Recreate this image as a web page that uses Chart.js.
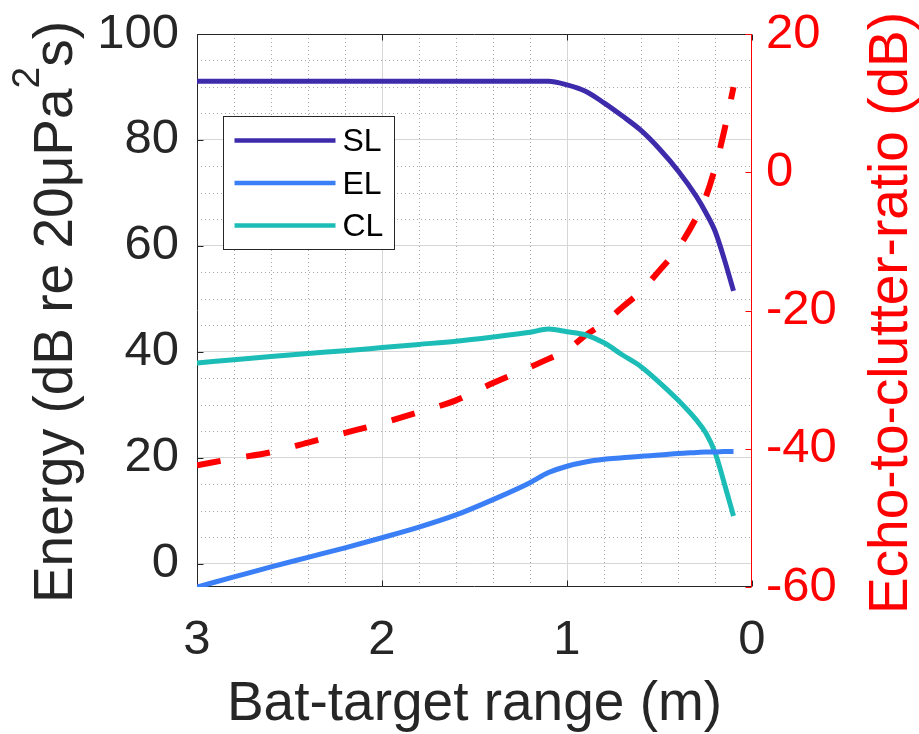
<!DOCTYPE html>
<html>
<head>
<meta charset="utf-8">
<script src="https://cdn.jsdelivr.net/npm/chart.js@4.4.1/dist/chart.umd.min.js"></script>
<style>
  html, body { margin: 0; padding: 0; background: #ffffff; }
  canvas { display: block; }
</style>
</head>
<body>
<canvas id="chart" width="919" height="734"></canvas>
<script>
// Bat-target range (m), shared by every series
const rangeM = [3.0, 2.8, 2.6, 2.4, 2.2, 2.0, 1.8, 1.6, 1.4, 1.2, 1.1, 1.0, 0.9, 0.8, 0.7, 0.6, 0.5, 0.4, 0.3, 0.25, 0.2, 0.15, 0.1];

// Energy levels (dB re 20 uPa^2 s)
const sourceLevel  = [91.1, 91.1, 91.1, 91.1, 91.1, 91.1, 91.1, 91.1, 91.1, 91.1, 91.1, 90.4, 89.2, 87.0, 84.5, 81.8, 78.3, 74.2, 69.3, 66.3, 62.8, 57.5, 51.5];
const echoLevel    = [-4.4, -2.5, -0.6, 1.2, 3.0, 4.9, 6.9, 9.2, 12.1, 15.3, 17.2, 18.4, 19.2, 19.7, 20.0, 20.3, 20.5, 20.8, 21.0, 21.1, 21.1, 21.2, 21.2];
const clutterLevel = [37.9, 38.5, 39.1, 39.7, 40.2, 40.8, 41.4, 42.0, 42.8, 43.7, 44.3, 43.8, 43.2, 41.7, 39.4, 37.2, 34.2, 30.9, 27.1, 24.7, 21.0, 15.2, 9.0];

// Echo-to-clutter ratio (dB), right axis
const echoToClutter = [-42.4, -41.4, -40.5, -39.1, -37.7, -36.3, -34.7, -33.0, -30.5, -28.2, -27.0, -25.7, -23.6, -21.8, -19.5, -17.2, -14.2, -11.0, -6.5, -3.6, 0.6, 6.0, 12.3];

// Tick and grid values
const rangeTicks  = [3, 2, 1, 0];
const rangeMinor  = [2.8, 2.6, 2.4, 2.2, 1.8, 1.6, 1.4, 1.2, 0.8, 0.6, 0.4, 0.2];
const energyTicks = [0, 20, 40, 60, 80, 100];
const energyMinor = [5, 10, 15, 25, 30, 35, 45, 50, 55, 65, 70, 75, 85, 90, 95];
const ecrTicks    = [20, 0, -20, -40, -60];

const FONT = '"Liberation Sans", Arial, Helvetica, sans-serif';
const INK = '#262626';
const RED = '#ff0000';

const pts = (ys) => rangeM.map((x, i) => ({ x: x, y: ys[i] }));

// Box, inward ticks, minor dotted grid, legend and axis titles
const framePlugin = {
  id: 'frame',
  beforeDatasetsDraw(chart) {
    const { ctx, chartArea: a, scales } = chart;
    const sx = scales.x, sy = scales.y, sy2 = scales.y2;
    const L = Math.round(a.left) + 0.5, R = Math.round(a.right) - 0.5;
    const T = Math.round(a.top) + 0.5, B = Math.round(a.bottom) - 0.5;
    ctx.save();
    ctx.lineWidth = 1;

    // minor grid (dotted)
    ctx.strokeStyle = 'rgba(60,60,60,0.45)';
    ctx.setLineDash([1, 3]);
    ctx.beginPath();
    rangeMinor.forEach(v => {
      const px = Math.round(sx.getPixelForValue(v)) + 0.5;
      ctx.moveTo(px, a.top); ctx.lineTo(px, a.bottom);
    });
    energyMinor.forEach(v => {
      const py = Math.round(sy.getPixelForValue(v)) + 0.5;
      ctx.moveTo(a.left, py); ctx.lineTo(a.right, py);
    });
    ctx.stroke();
    ctx.setLineDash([]);

    // box: left / top / bottom dark, right red
    ctx.strokeStyle = INK;
    ctx.beginPath();
    ctx.moveTo(R, T); ctx.lineTo(L, T); ctx.lineTo(L, B); ctx.lineTo(R, B);
    ctx.stroke();
    ctx.strokeStyle = RED;
    ctx.beginPath();
    ctx.moveTo(R, a.top); ctx.lineTo(R, a.bottom);
    ctx.stroke();

    // inward tick marks
    const tl = 6;
    ctx.strokeStyle = INK;
    ctx.beginPath();
    energyTicks.forEach(v => {
      const py = Math.round(sy.getPixelForValue(v)) + 0.5;
      ctx.moveTo(L, py); ctx.lineTo(L + tl, py);
    });
    rangeTicks.forEach(v => {
      const px = Math.round(sx.getPixelForValue(v)) + 0.5;
      ctx.moveTo(px, B); ctx.lineTo(px, B - tl);
      ctx.moveTo(px, T); ctx.lineTo(px, T + tl);
    });
    ctx.stroke();
    ctx.strokeStyle = RED;
    ctx.beginPath();
    ecrTicks.forEach(v => {
      const py = Math.round(sy2.getPixelForValue(v)) + 0.5;
      ctx.moveTo(R, py); ctx.lineTo(R - tl, py);
    });
    ctx.stroke();
    ctx.restore();
  },
  afterDatasetsDraw(chart) {
    const { ctx, chartArea: a } = chart;
    ctx.save();

    // legend box
    const bx = Math.round(a.left) + 26.5, by = Math.round(a.top) + 82.5;
    const bw = 171, bh = 133;
    ctx.fillStyle = '#ffffff';
    ctx.fillRect(bx, by, bw, bh);
    ctx.strokeStyle = INK;
    ctx.lineWidth = 1;
    ctx.strokeRect(bx, by, bw, bh);
    const entries = chart.data.datasets.filter(d => d.inLegend);
    ctx.font = '32px ' + FONT;
    ctx.textBaseline = 'middle';
    ctx.textAlign = 'left';
    entries.forEach((d, i) => {
      const yy = by + 24 + i * 42.5;
      ctx.strokeStyle = d.borderColor;
      ctx.lineWidth = 4.5;
      ctx.beginPath();
      ctx.moveTo(bx + 11, yy); ctx.lineTo(bx + 112, yy);
      ctx.stroke();
      ctx.fillStyle = '#000000';
      ctx.fillText(d.label, bx + 119, yy + 2);
    });

    // axis titles
    const tf = 55;
    ctx.textBaseline = 'alphabetic';

    // x title
    ctx.fillStyle = INK;
    ctx.font = tf + 'px ' + FONT;
    ctx.textAlign = 'center';
    ctx.fillText('Bat-target range (m)', (a.left + a.right) / 2, 720);

    // left title with superscript
    const partA = 'Energy (dB re 20\u03bcPa', sup = '2', partB = 's)';
    const supF = 39;
    ctx.font = tf + 'px ' + FONT;
    const wA = ctx.measureText(partA).width, wB = ctx.measureText(partB).width;
    ctx.font = supF + 'px ' + FONT;
    const wS = ctx.measureText(sup).width;
    const total = wA + wS + wB;
    ctx.save();
    ctx.translate(72, 312);
    ctx.rotate(-Math.PI / 2);
    ctx.textAlign = 'left';
    ctx.font = tf + 'px ' + FONT;
    ctx.fillText(partA, -total / 2, 0);
    ctx.font = supF + 'px ' + FONT;
    ctx.fillText(sup, -total / 2 + wA, -33);
    ctx.font = tf + 'px ' + FONT;
    ctx.fillText(partB, -total / 2 + wA + wS, 0);
    ctx.restore();

    // right title
    ctx.save();
    ctx.translate(907, 313);
    ctx.rotate(-Math.PI / 2);
    ctx.textAlign = 'center';
    ctx.fillStyle = RED;
    ctx.font = tf + 'px ' + FONT;
    ctx.fillText('Echo-to-clutter-ratio (dB)', 0, 0);
    ctx.restore();

    ctx.restore();
  }
};

new Chart(document.getElementById('chart'), {
  type: 'line',
  data: {
    datasets: [
      { label: 'SL', inLegend: true, data: pts(sourceLevel), borderColor: '#3d2bab', borderWidth: 5, yAxisID: 'y' },
      { label: 'EL', inLegend: true, data: pts(echoLevel), borderColor: '#3b7ff7', borderWidth: 5, yAxisID: 'y' },
      { label: 'CL', inLegend: true, data: pts(clutterLevel), borderColor: '#1cbdb6', borderWidth: 5, yAxisID: 'y' },
      { label: 'ECR', inLegend: false, data: pts(echoToClutter), borderColor: RED, borderWidth: 6, borderDash: [24, 26], yAxisID: 'y2' }
    ]
  },
  options: {
    responsive: false,
    animation: false,
    layout: { padding: { top: 34, left: 0, right: 0, bottom: 0 } },
    elements: {
      point: { radius: 0, hoverRadius: 0 },
      line: { fill: false, cubicInterpolationMode: 'monotone', borderCapStyle: 'butt', borderJoinStyle: 'round' }
    },
    plugins: { legend: { display: false }, tooltip: { enabled: false } },
    scales: {
      x: {
        type: 'linear', position: 'bottom', min: 0, max: 3, reverse: true,
        afterBuildTicks: s => { s.ticks = rangeTicks.map(v => ({ value: v })); },
        afterFit: s => { s.height = 147; s.paddingLeft = 0; s.paddingRight = 0; },
        grid: {
          drawTicks: false,
          lineWidth: 1,
          color: c => (c.tick && (c.tick.value === 0 || c.tick.value === 3)) ? 'rgba(0,0,0,0)' : '#d6d6d6'
        },
        border: { display: false },
        ticks: { color: INK, padding: 24, maxRotation: 0, font: { family: FONT, size: 49 } }
      },
      y: {
        type: 'linear', position: 'left', min: -4.4, max: 100,
        afterBuildTicks: s => { s.ticks = energyTicks.map(v => ({ value: v })); },
        afterFit: s => { s.width = 197; s.paddingTop = 0; s.paddingBottom = 0; },
        grid: {
          drawTicks: false,
          lineWidth: 1,
          color: c => (c.tick && c.tick.value === 100) ? 'rgba(0,0,0,0)' : '#d6d6d6'
        },
        border: { display: false },
        ticks: { color: INK, padding: 18, font: { family: FONT, size: 49 } }
      },
      y2: {
        type: 'linear', position: 'right', min: -60, max: 20,
        afterBuildTicks: s => { s.ticks = ecrTicks.map(v => ({ value: v })); },
        afterFit: s => { s.width = 167; s.paddingTop = 0; s.paddingBottom = 0; },
        grid: { drawOnChartArea: false, drawTicks: false },
        border: { display: false },
        ticks: { color: RED, padding: 14, font: { family: FONT, size: 49 } }
      }
    }
  },
  plugins: [framePlugin]
});
</script>
</body>
</html>
